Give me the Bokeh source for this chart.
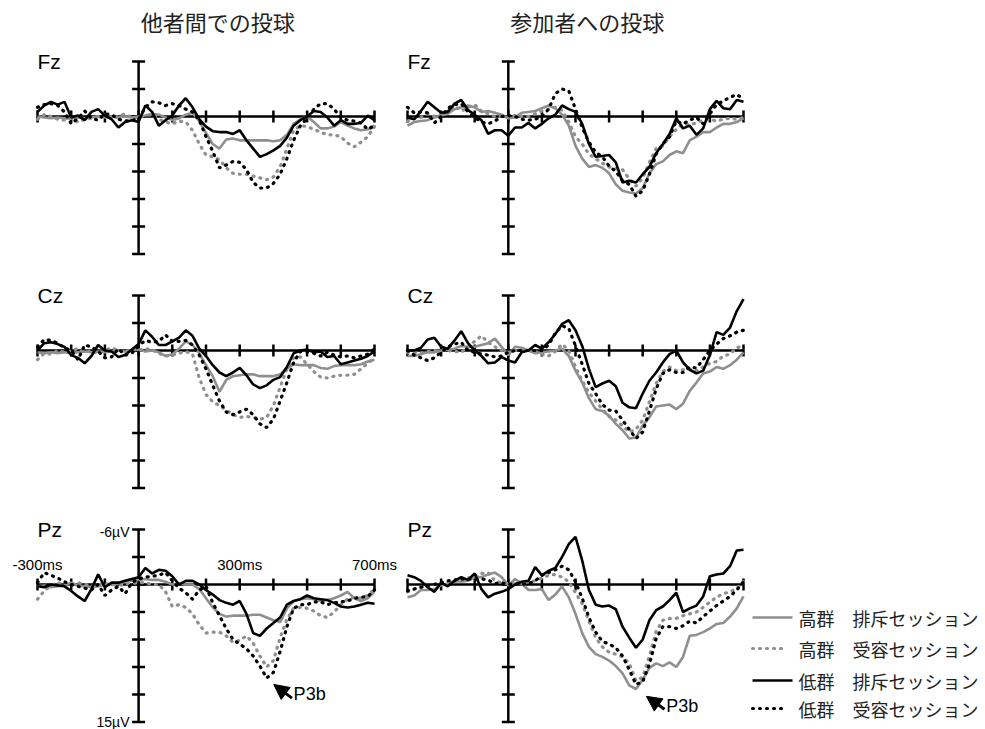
from math import pi
from bokeh.plotting import figure
from bokeh.layouts import row, column
from bokeh.models import Range1d, Arrow, NormalHead, Spacer
from bokeh.core.properties import value
from bokeh.embed import file_html
from bokeh.resources import INLINE

# ---------------- data (ms, µV; negative plotted upward) ----------------
T = list(range(-300, 701, 20))
X_TICKS = list(range(-300, 701, 100))
Y_TICKS = [-6, -3, 0, 3, 6, 9, 12, 15]

COL_TITLES = ["他者間での投球", "参加者への投球"]
ROW_LABELS = ["Fz", "Cz", "Pz"]
LEGEND_LABELS = ["高群　排斥セッション", "高群　受容セッション",
                 "低群　排斥セッション", "低群　受容セッション"]

# 他者間での投球 (left column)
fz_other_hi_rej = [0.0, 0.1, 0.2, 0.1, 0.2, 0.2, 0.1, 0.2, 0.1, 0.0,
                   0.1, 0.0, 0.1, 0.0, 0.1, 0.0, -0.1, -0.3, -0.2, 0.1,
                   0.4, 0.2, -0.2, -0.4, 0.5, 1.8, 3.0, 3.5, 2.5, 2.4,
                   2.6, 2.6, 2.6, 2.6, 2.6, 2.7, 2.6, 2.0, 0.8, 0.3,
                   0.0, 0.6, 1.3, 1.3, 1.1, 0.6, 1.0, 1.3, 1.5, 1.4,
                   1.0]
fz_other_hi_acc = [0.3, -0.2, 0.0, 0.3, 0.4, 0.2, 0.6, 0.3, 0.2, 0.0,
                   -0.2, 0.2, 0.0, -0.3, 0.2, 0.1, -0.1, -0.2, 0.3, 0.6,
                   0.8, 0.5, 0.6, 1.5, 3.0, 4.2, 4.4, 4.7, 5.6, 6.2,
                   6.3, 6.3, 6.5, 6.7, 6.9, 6.6, 5.5, 3.5, 1.5, 1.0,
                   1.1, 1.4, 1.7, 2.0, 2.0, 2.2, 2.9, 3.3, 2.8, 2.2,
                   1.1]
fz_other_lo_rej = [-0.5, -1.2, -1.6, -1.3, -1.6, 0.1, -0.1, 0.4, -0.5, -0.8,
                   -0.1, 0.3, 1.2, 0.6, 0.4, 0.6, -1.2, -0.5, 1.0, 0.4,
                   -0.1, -1.2, -2.0, -1.0, 0.3, 1.1, 1.6, 1.7, 1.7, 1.9,
                   1.5, 2.6, 3.5, 4.4, 4.1, 3.7, 3.2, 2.3, 1.0, 0.4,
                   0.0, -0.6, -0.5, 0.1, 1.0, 0.4, 0.8, 0.8, 0.7, -0.1,
                   0.4]
fz_other_lo_acc = [-1.0, -1.3, -1.4, -1.2, -0.5, 0.8, 0.2, -0.6, 0.2, 0.4,
                   -0.3, -0.2, 0.3, 0.5, 0.4, 0.3, -1.0, -1.6, -1.5, -1.2,
                   -1.4, -1.2, -0.8, -0.5, 0.4, 2.2, 3.8, 5.6, 5.3, 4.9,
                   5.0, 5.8, 7.2, 7.8, 7.8, 7.3, 6.3, 4.6, 2.6, 1.0,
                   0.2, -0.8, -1.4, -1.4, -0.8, 0.1, 0.4, 0.5, 0.7, 1.4,
                   1.0]

cz_other_hi_rej = [0.2, 0.3, 0.2, 0.3, 0.2, 0.3, 0.2, 0.1, 0.2, 0.1,
                   0.2, 0.1, 0.0, 0.1, 0.0, -0.1, 0.1, 0.0, 0.2, 0.6,
                   0.4, -0.2, -1.0, -0.6, 0.3, 1.6, 2.8, 4.5, 3.2, 2.8,
                   2.7, 2.6, 2.6, 2.8, 2.8, 2.8, 2.6, 2.0, 1.5, 1.6,
                   1.6, 1.6, 1.9, 2.0, 1.7, 1.6, 1.6, 1.6, 1.5, 1.2,
                   1.0]
cz_other_hi_acc = [1.0, 0.3, 0.4, 0.0, 0.2, 0.0, -0.2, 0.2, 0.0, 0.3,
                   0.0, -0.3, 0.0, 0.2, -0.2, 0.0, -0.2, -0.1, 0.3, 0.6,
                   0.5, 0.3, 0.1, 0.4, 3.0, 4.8, 5.6, 6.0, 6.5, 7.0,
                   7.3, 7.2, 7.3, 7.5, 7.3, 6.0, 4.0, 2.0, 0.8, 0.7,
                   1.5, 2.3, 2.9, 3.0, 2.8, 2.7, 2.7, 2.6, 2.0, 1.4,
                   0.8]
cz_other_lo_rej = [0.0, -0.8, -0.9, -0.7, -0.4, 0.5, 0.8, 1.4, 0.6, -0.6,
                   0.0, 0.1, 0.7, 0.5, -0.1, -0.7, -2.2, -1.5, -0.6, -0.6,
                   -1.0, -1.4, -2.2, -1.6, -0.2, 0.6, 1.6, 2.4, 2.8, 2.4,
                   1.9, 2.7, 3.7, 4.1, 3.8, 3.2, 2.9, 1.8, 0.3, 0.0,
                   -0.1, 0.2, 0.1, 0.7, 0.6, 1.5, 1.3, 1.1, 0.9, 0.6,
                   0.1]
cz_other_lo_acc = [-0.4, -1.2, -1.1, -0.8, -0.3, 0.0, 1.0, -0.6, -0.4, 0.1,
                   0.8, 0.7, -0.2, 0.5, 0.3, -0.5, -1.1, -0.9, -1.0, -1.7,
                   -1.0, -1.0, -1.1, -0.6, 0.5, 2.0, 3.8, 5.5, 6.7, 7.0,
                   6.7, 6.4, 7.0, 8.0, 8.4, 7.5, 5.5, 3.5, 1.3, 0.1,
                   0.1, 0.3, 0.6, 0.2, 0.5, 0.7, 0.6, 0.8, 0.6, 0.4,
                   -0.2]

pz_other_hi_rej = [0.2, 0.1, 0.3, 0.2, 0.1, -0.2, 0.1, 0.2, 0.3, 0.2,
                   0.1, 0.0, -0.1, -0.3, -0.4, -0.5, -0.6, -0.5, -0.5, -0.3,
                   0.0, -0.1, 0.0, 0.0, 0.5, 1.5, 2.5, 3.2, 3.5, 3.4,
                   3.4, 3.4, 3.3, 3.3, 3.6, 3.9, 4.1, 2.6, 1.8, 1.6,
                   1.5, 1.6, 1.8, 1.7, 1.5, 1.2, 0.8, 1.5, 1.8, 1.5,
                   0.8]
pz_other_hi_acc = [1.6, 0.7, 0.1, -0.2, 0.0, 0.1, -0.2, 0.0, 0.1, 0.0,
                   -0.1, 0.0, 0.1, 0.0, -0.1, -0.2, -0.2, 0.0, 0.0, 0.8,
                   2.4, 2.2, 2.5, 3.2, 4.4, 5.3, 5.2, 5.2, 5.6, 6.3,
                   6.1, 5.6, 6.4, 7.8, 9.0, 8.3, 5.8, 3.8, 2.6, 2.5,
                   2.6, 2.9, 3.4, 3.6, 3.0, 2.2, 1.6, 1.4, 1.5, 1.2,
                   0.5]
pz_other_lo_rej = [0.2, 0.3, 0.0, 0.1, 0.2, 0.7, 1.3, 1.8, 0.5, -1.1,
                   0.3, -0.2, -0.2, -0.4, -0.6, -0.8, -1.8, -1.2, -1.6, -1.5,
                   -0.9, 0.0, -0.4, -0.4, 0.0, 0.6, 1.1, 1.7, 2.0, 2.2,
                   1.8, 3.2, 5.3, 5.6, 4.8, 4.2, 3.6, 2.2, 1.8, 1.6,
                   1.2, 1.5, 1.6, 1.7, 2.0, 2.4, 2.5, 2.4, 2.2, 2.0,
                   2.1]
pz_other_lo_acc = [-0.2, -1.3, -1.0, -0.7, -0.3, 0.0, 0.2, 0.4, 0.6, 0.0,
                   1.2, 0.6, 0.2, 1.0, -0.2, -0.6, -0.8, -0.9, -1.0, -1.3,
                   -0.4, 0.4, 0.9, 1.6, 0.6, 0.2, 2.0, 3.4, 4.8, 6.0,
                   6.5, 7.0, 7.8, 8.9, 10.2, 9.6, 7.3, 4.6, 2.6, 2.2,
                   2.2, 1.9, 1.9, 2.2, 2.0, 1.9, 1.8, 1.5, 1.4, 1.3,
                   0.6]

# 参加者への投球 (right column)
fz_self_hi_rej = [1.0, 0.6, 0.5, 0.4, 0.1, -0.1, -0.3, -0.8, -1.0, -1.2,
                  -1.0, -0.5, -0.6, -0.4, -0.2, 0.2, 0.1, -0.4, -0.5, -0.6,
                  -0.9, -1.2, -0.9, -0.2, 1.0, 3.2, 4.6, 5.5, 5.3, 5.6,
                  6.2, 7.4, 8.1, 8.3, 8.4, 7.8, 6.2, 5.2, 4.9, 4.2,
                  3.8, 4.0, 2.6, 2.2, 1.7, 1.7, 1.2, 0.8, 0.8, 0.6,
                  0.2]
fz_self_hi_acc = [0.5, 0.2, 0.1, -0.3, 0.0, -0.2, -0.6, -1.2, -0.6, -1.0,
                  -1.3, -0.6, -0.3, 0.0, 0.0, 0.1, -0.1, 0.0, 0.0, -0.3,
                  -0.6, -0.8, -1.0, -0.7, 0.6, 2.2, 3.0, 4.1, 4.6, 5.1,
                  5.5, 5.7, 5.8, 6.8, 7.6, 6.7, 5.0, 3.5, 3.2, 2.2,
                  1.4, 0.8, 0.9, 0.7, 0.4, 0.3, 0.5, 0.3, 0.2, 0.3,
                  0.1]
fz_self_lo_rej = [0.1, 0.3, -0.6, -1.6, -1.0, -0.4, -0.5, -1.4, -1.8, -0.7,
                  -0.2, 0.4, 1.9, 1.5, 1.5, 2.1, 1.2, 1.2, 0.7, 1.3,
                  0.8, 0.2, -0.2, -1.2, -0.8, -0.5, 0.8, 3.0, 4.4, 4.3,
                  4.2, 5.0, 7.2, 7.0, 7.2, 6.3, 5.5, 4.0, 3.0, 1.9,
                  0.2, 1.3, 1.0, 2.0, 1.3, -0.8, -1.7, -0.9, -0.8, -1.8,
                  -1.6]
fz_self_lo_acc = [-1.0, -0.4, -0.5, -0.4, 0.7, 0.0, -0.9, -1.3, -1.4, -0.5,
                  0.1, 0.6, 0.8, 0.5, 0.0, -0.1, 0.0, 0.3, 0.4, 0.3,
                  0.0, -0.8, -2.5, -3.0, -2.8, -0.8, 1.2, 2.8, 3.9, 4.4,
                  5.4, 6.0, 7.0, 7.4, 8.7, 8.1, 6.3, 4.1, 3.0, 2.2,
                  0.5, 0.8, 0.4, 0.1, 0.8, -0.3, -1.3, -1.7, -2.1, -2.4,
                  -1.9]

cz_self_hi_rej = [0.6, 0.6, 0.4, 0.2, 0.2, 0.0, -0.1, -0.2, -0.5, -0.4,
                  -0.4, -0.6, -0.8, -1.3, -0.4, 0.5, -0.4, -0.3, 0.0, 0.3,
                  0.2, 0.1, 0.0, -0.2, 0.6, 2.2, 3.5, 5.2, 6.4, 6.6,
                  7.1, 8.0, 8.7, 9.6, 9.5, 8.2, 7.3, 6.1, 6.0, 5.9,
                  6.4, 5.8, 4.4, 3.5, 2.5, 2.3, 1.8, 2.0, 1.6, 1.0,
                  0.2]
cz_self_hi_acc = [0.2, 0.2, 0.3, 0.1, 0.0, 0.0, 0.0, 0.1, 0.2, -0.4,
                  -1.0, -1.6, -0.9, -0.4, 0.0, 0.2, 0.0, 0.0, 0.0, 0.1,
                  0.4, 0.6, 0.1, -0.7, 0.0, 1.8, 3.3, 4.6, 5.5, 6.4,
                  7.2, 7.6, 8.2, 8.9, 8.6, 7.6, 5.6, 3.6, 2.3, 1.8,
                  2.2, 2.1, 2.0, 2.2, 1.8, 1.4, 1.2, 0.6, 0.4, -0.3,
                  -0.5]
cz_self_lo_rej = [0.0, 0.0, -0.3, -1.2, -1.4, -0.4, -0.2, -1.1, -2.1, -0.8,
                  0.0, 0.6, 1.4, 1.3, 0.7, 1.1, 1.3, 0.2, 0.0, -0.6,
                  -0.2, -0.9, -1.8, -2.9, -3.3, -2.2, -0.5, 2.0, 4.0, 3.6,
                  3.3, 3.9, 5.7, 6.2, 6.3, 4.7, 3.3, 2.4, 1.3, 0.4,
                  0.0, 1.3, 2.1, 2.5, 2.2, 0.5, -2.0, -1.7, -2.5, -4.3,
                  -5.6]
cz_self_lo_acc = [0.0, 0.5, 0.8, 1.1, 0.8, 0.2, -0.4, -0.7, -0.9, 0.0,
                  0.2, 0.4, 0.5, 0.7, 0.6, 0.2, 0.0, 0.0, 0.0, 0.0,
                  0.0, -0.6, -1.9, -2.7, -2.4, -0.5, 1.5, 3.6, 4.7, 5.9,
                  6.5, 6.6, 7.6, 8.6, 9.6, 8.9, 6.6, 4.2, 2.5, 2.1,
                  2.4, 2.4, 1.8, 1.9, 1.0, 0.0, -0.7, -1.3, -1.6, -2.0,
                  -2.2]

pz_self_hi_rej = [1.4, 1.2, 0.6, 0.6, 0.5, 0.1, -0.1, -0.4, -0.3, -0.4,
                  -0.8, -0.8, -1.1, -1.3, -0.8, 0.1, -0.6, -0.1, 0.6, 0.6,
                  0.5, 1.7, 1.1, 0.2, 1.4, 3.2, 5.3, 6.8, 7.6, 7.9,
                  8.3, 8.9, 9.7, 11.0, 11.4, 10.4, 9.1, 8.6, 8.9, 8.5,
                  9.0, 7.9, 5.6, 5.5, 5.2, 4.8, 4.3, 4.2, 3.5, 2.6,
                  1.3]
pz_self_hi_acc = [0.8, 0.5, 0.3, 0.1, 0.0, -0.1, -0.2, -0.3, -0.5, -0.7,
                  -0.9, -1.2, -1.3, -0.4, -0.2, -0.1, -0.1, -0.2, -0.3, -0.4,
                  -0.7, -1.0, -1.1, -0.8, -0.3, 0.9, 2.1, 4.0, 5.8, 6.8,
                  7.4, 7.6, 7.9, 8.6, 10.5, 10.1, 7.8, 5.1, 3.9, 3.7,
                  3.7, 3.4, 3.2, 3.0, 2.5, 1.9, 1.4, 1.0, 0.8, 0.4,
                  -0.3]
pz_self_lo_rej = [-1.0, -0.8, -0.4, 0.3, 0.8, -0.2, 0.2, -0.4, -0.8, -0.5,
                  -1.2, 0.5, 1.4, 1.0, 0.8, 0.5, 0.0, -0.3, -0.4, -1.9,
                  -1.0, -1.5, -1.8, -3.0, -4.4, -5.2, -2.6, 0.6, 2.2, 2.4,
                  2.3, 2.7, 4.6, 5.8, 6.9, 6.0, 3.9, 2.8, 2.4, 1.7,
                  0.9, 3.0, 2.6, 2.3, 1.3, -0.9, -1.1, -1.2, -2.0, -3.7,
                  -3.8]
pz_self_lo_acc = [0.7, 0.5, 0.3, 0.1, 0.0, -0.2, -0.4, -0.5, -0.6, -0.6,
                  -0.6, -0.6, -0.5, -0.1, -0.2, 0.0, -0.1, 0.0, -0.1, -0.4,
                  -1.0, -1.3, -1.6, -2.0, -1.6, -0.3, 1.5, 3.6, 5.2, 6.2,
                  6.5, 6.9, 7.8, 9.3, 10.9, 10.6, 8.7, 5.9, 4.6, 4.6,
                  4.8, 4.5, 4.0, 4.2, 3.5, 2.9, 2.3, 1.8, 1.3, 0.6,
                  -0.3]

PANELS = [
    [(fz_other_hi_rej, fz_other_hi_acc, fz_other_lo_rej, fz_other_lo_acc),
     (fz_self_hi_rej, fz_self_hi_acc, fz_self_lo_rej, fz_self_lo_acc)],
    [(cz_other_hi_rej, cz_other_hi_acc, cz_other_lo_rej, cz_other_lo_acc),
     (cz_self_hi_rej, cz_self_hi_acc, cz_self_lo_rej, cz_self_lo_acc)],
    [(pz_other_hi_rej, pz_other_hi_acc, pz_other_lo_rej, pz_other_lo_acc),
     (pz_self_hi_rej, pz_self_hi_acc, pz_self_lo_rej, pz_self_lo_acc)],
]

# ---------------- styling / layout ----------------
GRAY = "#8f8f8f"
BLACK = "#000000"
DOT = "1 6"
STYLES = [dict(line_color=GRAY, line_width=2.6),
          dict(line_color=GRAY, line_width=3.2, line_dash=DOT, line_cap="round"),
          dict(line_color=BLACK, line_width=2.6),
          dict(line_color=BLACK, line_width=3.2, line_dash=DOT, line_cap="round")]

LATIN = value("Liberation Sans")
CJK = value("Noto Sans CJK JP")

COL_W = [398, 350]
COL_X = [(-409.8, 771.2), (-326.8, 714.9)]
ROW_H = [270, 234, 225]
ROW_Y = [(16.80, -12.655), (16.80, -8.727), (15.818, -8.727)]
LEG_W = 237


def base_fig(w, h, xr, yr):
    p = figure(width=w, height=h, x_range=Range1d(*xr), y_range=Range1d(*yr),
               output_backend="svg", toolbar_location=None,
               x_axis_location=None, y_axis_location=None,
               min_border=0, outline_line_color=None)
    p.xgrid.visible = False
    p.ygrid.visible = False
    return p


def panel(r, c):
    p = base_fig(COL_W[c], ROW_H[r], COL_X[c], ROW_Y[r])
    # crossing axes
    p.line([X_TICKS[0], X_TICKS[-1]], [0, 0], line_color=BLACK, line_width=2.5)
    p.line([0, 0], [Y_TICKS[0], Y_TICKS[-1]], line_color=BLACK, line_width=2.5)
    p.scatter(X_TICKS, [0] * len(X_TICKS), marker="dash", size=12, angle=pi / 2,
              line_color=BLACK, line_width=2.5)
    p.scatter([0] * len(Y_TICKS), Y_TICKS, marker="dash", size=13,
              line_color=BLACK, line_width=2.5)
    for series, st in zip(PANELS[r][c], STYLES):
        p.line(T, series, **st)
    p.text(x=[X_TICKS[0]], y=[Y_TICKS[0]], text=[ROW_LABELS[r]], text_font=LATIN,
           text_font_size="21px", text_align="left", text_baseline="middle",
           text_color=BLACK)
    if r == 0:
        p.text(x=[235], y=[-10.45], text=[COL_TITLES[c]], text_font=CJK,
               text_font_size="22px", text_align="center", text_baseline="middle",
               text_color="#222222")
    if r == 2:
        if c == 0:
            p.text(x=[-27], y=[Y_TICKS[0] + 0.3], text=["-6µV"], text_font=LATIN,
                   text_font_size="14px", text_align="right", text_baseline="middle")
            p.text(x=[-27], y=[Y_TICKS[-1]], text=["15µV"], text_font=LATIN,
                   text_font_size="14px", text_align="right", text_baseline="middle")
            p.text(x=[-300, 300, 700], y=[-2.2] * 3, text=["-300ms", "300ms", "700ms"],
                   text_font=LATIN, text_font_size="15px", text_align="center",
                   text_baseline="middle")
            tip, tail, lab = (401, 10.9), (455, 12.4), (460, 11.9)
        else:
            tip, tail, lab = (411, 12.2), (465, 13.6), (470, 13.2)
        p.add_layout(Arrow(end=NormalHead(size=15, fill_color=BLACK, line_color=BLACK),
                           x_start=tail[0], y_start=tail[1], x_end=tip[0], y_end=tip[1],
                           line_color=BLACK, line_width=3))
        p.text(x=[lab[0]], y=[lab[1]], text=["P3b"], text_font=LATIN,
               text_font_size="18px", text_align="left", text_baseline="middle")
    return p


def legend_fig():
    h = ROW_H[2]
    p = base_fig(LEG_W, h, (0, LEG_W), (h, 0))
    rows_y = [113, 144, 176, 204]
    for ly, st, lab in zip(rows_y, STYLES, LEGEND_LABELS):
        x1 = 44 if "line_dash" not in st else 38
        p.line([4, x1], [ly, ly], **st)
        p.text(x=[50], y=[ly], text=[lab], text_font=CJK, text_font_size="18px",
               text_align="left", text_baseline="middle", text_color="#222222")
    return p


rows = []
for r in range(3):
    kids = [panel(r, 0), panel(r, 1)]
    kids.append(legend_fig() if r == 2 else Spacer(width=LEG_W, height=ROW_H[r]))
    rows.append(row(*kids))
layout = column(*rows)

open("out.html", "w").write(file_html(layout, INLINE))
